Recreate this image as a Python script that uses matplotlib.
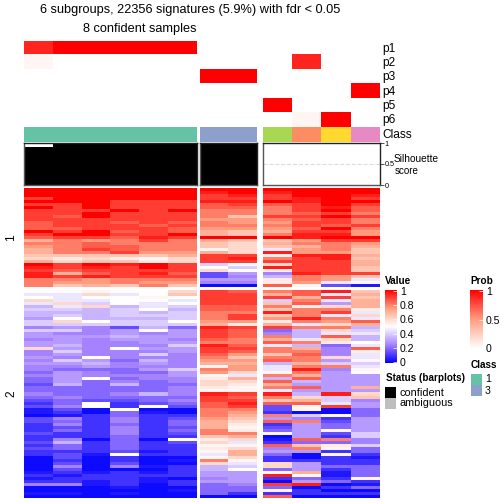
import numpy as np
import matplotlib
matplotlib.use('Agg')
import matplotlib.pyplot as plt
from matplotlib.cm import ScalarMappable
from matplotlib.colors import LinearSegmentedColormap, ListedColormap, Normalize

plt.rcParams['font.family'] = ['Liberation Sans', 'DejaVu Sans']

W, H = 504, 504

# membership probabilities by sample, p1..p6
prob_names = ['p1', 'p2', 'p3', 'p4', 'p5', 'p6']
prob_a = [[0.88, 1, 1, 1, 1, 1], [0.05, 0, 0, 0, 0, 0], [0, 0, 0, 0, 0, 0],
          [0, 0, 0, 0, 0, 0], [0, 0, 0, 0, 0, 0], [0, 0, 0, 0, 0, 0]]
prob_b = [[0, 0], [0, 0], [1, 1], [0, 0], [0, 0], [0, 0]]
prob_c = [[0, 0, 0, 0], [0, 0.88, 0, 0], [0, 0, 0, 0],
          [0, 0, 0, 1], [1, 0, 0, 0], [0, 0.05, 1, 0]]

class_a = ['#66C2A5']
class_b = ['#8DA0CB']
class_c = ['#A6D854', '#FC8D62', '#FFD92F', '#E78AC3']

sil_a = [0.9, 0.97, 0.97, 0.97, 0.97, 0.97]
sil_b = [0.97, 0.97]

# expression values in tenths, top row first
block1_a = [
    [10, 10, 10, 10, 10, 10], [10, 10, 10, 10, 10, 10], [10, 10, 10, 10, 10, 10],
    [9, 10, 10, 10, 10, 10], [10, 10, 10, 9, 9, 9], [9, 9, 10, 9, 9, 9],
    [10, 9, 10, 9, 9, 9], [9, 9, 9, 10, 9, 10], [9, 9, 10, 9, 9, 9],
    [9, 8.5, 10, 9, 9, 9], [9, 9, 9, 9, 9, 9], [8.5, 9, 9, 8.5, 9, 8.5],
    [8.5, 9, 9, 9, 8.5, 9], [8.5, 8.5, 9, 9, 9, 8.5], [10, 9, 10, 8.5, 9, 8.5],
    [9, 10, 10, 9, 9, 10], [8.5, 9, 9, 8.5, 9.5, 9], [7, 8, 7.5, 8, 9, 8],
    [8, 8, 8.5, 8, 8, 8], [7.5, 8, 8.5, 8.5, 8, 8], [7, 8, 9, 8.5, 8, 8],
    [7, 8, 8, 9, 7.5, 7.5], [6.5, 6.5, 6.5, 6.5, 6.5, 7], [6, 5.5, 6, 5.5, 5.2, 6],
    [7, 6, 6.5, 6.5, 5.5, 6], [10, 9, 10, 9.5, 10, 9], [9.5, 9, 9.5, 9, 10, 9],
    [9, 8.5, 9, 9, 9, 9], [9.5, 7, 8.5, 9, 9.5, 8.5], [9.5, 9, 9.5, 9, 9, 9],
    [8, 8, 7.5, 8, 8, 8], [8, 7.5, 7.5, 8, 7.5, 7.5], [8, 6.5, 7, 6.5, 8, 6.5],
]
block1_b = [
    [10, 10], [9.5, 10], [9, 9.5], [9, 9], [9.5, 9.5], [8.5, 9], [8.5, 8.5], [8, 8], [8, 8],
    [8, 6.5], [7.5, 7.5], [8, 7.5], [8, 8], [7.5, 7.5], [7, 6.5], [7, 6.5], [10, 10], [7, 6.5],
    [6.5, 6], [6.5, 6], [5.2, 6], [7, 6], [9, 9], [9, 9.5], [9, 9], [4, 5], [5, 4],
    [6, 5], [1.5, 3], [1.5, 2.5], [3, 3], [2.5, 2.5], [0.2, 0.2],
]
block1_c = [
    [10, 10, 10, 10], [9.5, 10, 10, 10], [9, 10, 10, 9.5], [9, 9.5, 10, 9], [10, 9.5, 10, 10],
    [8.5, 9, 10, 9], [8, 9, 9.5, 8.5], [8, 9, 10, 8.5], [8, 8.5, 9, 8], [9, 9, 10, 9],
    [8, 8.5, 9, 8], [7.5, 9, 9, 8], [8, 9, 8.5, 9], [7.5, 8.5, 10, 8], [7, 9, 9, 7.5],
    [8, 9.5, 9.5, 7.5], [10, 9.5, 10, 10], [6.5, 7.5, 9, 9], [7, 8, 8, 7.5], [6.5, 7, 8, 7],
    [4.5, 7.5, 8, 6.5], [9.5, 7.5, 7.5, 6.5], [5.5, 9.5, 9.5, 7], [8, 9, 9.5, 6.5], [9, 9, 9, 7],
    [6, 9, 9, 7], [9.5, 9, 9, 6.5], [5.5, 9, 9, 6.5], [2.5, 9.5, 9, 9], [3.5, 8, 7.5, 6.5],
    [5.5, 8, 7.5, 4.5], [5.5, 7.5, 4.5, 5.2], [8.5, 5.2, 1.5, 0.5],
]
block2_a = [
    [5, 5, 5.2, 5, 5, 6], [4.5, 4.5, 6, 4.5, 5, 6.5], [5, 4.5, 5, 5, 5.2, 5], [6, 4.5, 4.5, 5, 5, 4.5],
    [4.5, 6, 4, 5, 4.5, 5], [3.5, 4.5, 6, 3.5, 4.5, 4], [4, 4, 3.5, 4, 5, 3.5], [3.5, 3.5, 3.5, 4, 3.5, 4],
    [3.5, 4, 3.5, 4, 4, 4], [3, 5, 3.5, 3.5, 3.5, 4], [4, 6, 5, 4, 4, 5], [4, 4, 4, 4, 4, 4],
    [2.5, 3, 2.5, 1.5, 3.5, 2], [4, 4, 2.5, 3, 5, 3], [3, 2.5, 2.5, 3, 2.5, 3], [3, 3, 3, 3.5, 3, 3],
    [2.5, 3, 2.5, 3, 3, 2.5], [3, 3, 2.5, 2.5, 3, 3], [3, 3.5, 2.5, 2.5, 2.5, 4], [6, 3, 2.5, 5, 3, 3],
    [2.5, 4, 2.5, 2.5, 2.5, 3], [2.5, 3, 2.5, 2.5, 4, 2.5], [3, 2.5, 5, 2.5, 2.5, 2.5], [2.5, 4, 3, 2, 3.5, 2.5],
    [3, 3, 3.5, 2.5, 3, 2.5], [2.5, 2.5, 3, 2.5, 2.5, 2.5], [2.5, 2, 2, 2, 3, 4], [2, 3, 2.5, 2, 2, 3],
    [2.5, 3, 2.5, 2.5, 2.5, 3], [2, 3, 5, 2, 2.5, 2.5], [2, 3, 2, 2.5, 2, 2.5], [1.5, 3.5, 2, 3.5, 2, 2],
    [2, 2, 2, 2, 2, 2.5], [2, 2, 2, 2, 2, 2.5], [2.5, 2, 2, 2.5, 3.5, 2.5], [2, 2.5, 2, 2, 2, 2],
    [1.5, 2, 1.5, 1.5, 2, 2.5], [1, 2, 5, 1, 1.5, 2], [1.5, 2.5, 5, 1, 5, 1.5], [0.5, 1.5, 0.2, 5, 0.2, 0.2],
    [0.5, 1, 0.2, 2, 0.5, 0.2], [0.2, 0.5, 1, 2, 1, 1], [1.5, 2.5, 1, 2.5, 1, 1.5], [1.5, 2, 1, 2.5, 1, 2],
    [1, 2.5, 1, 2, 1, 2], [1, 1.5, 1, 2.5, 1, 1.5], [1, 2, 1, 2.5, 1, 2], [1.5, 1, 1, 2.5, 1, 1.5],
    [1, 1, 1, 2, 1, 1], [1, 2.5, 0.2, 2, 0.2, 5], [1.5, 3.5, 1, 2, 1, 1.5], [1, 2, 1, 2, 1, 1],
    [1.5, 2, 1, 2, 1, 1], [1, 1, 1, 1.5, 0.5, 1], [1, 1.5, 0.5, 5, 1, 1], [0.2, 1.5, 0.2, 1, 0.2, 0.2],
    [0.2, 1, 0.2, 1, 0.2, 0.5], [0.2, 1.5, 0.2, 1.5, 0.2, 0.2], [0.2, 2.5, 0.2, 2.5, 0.5, 1], [0.2, 1.5, 0.2, 0.2, 0.2, 1],
    [0.5, 1, 0.5, 1, 0.5, 1], [1, 0.5, 1, 1, 1, 1], [0.5, 1, 1, 1, 0.5, 0.2], [1, 1, 0.5, 1, 0.5, 1],
    [2.5, 2.5, 0.5, 1, 0.2, 1], [0.2, 0.2, 0.2, 0.5, 0.2, 0.2], [0.2, 0.2, 0.2, 0.2, 0.2, 0.5], [0.5, 0.5, 0.2, 0.5, 0.2, 0.2],
    [0.2, 0.2, 0.2, 0.2, 0.2, 0.2],
]
block2_b = [
    [9, 8.5], [9, 9], [9, 9], [9, 9], [9, 9], [8.5, 8.5], [8.5, 8.5], [8, 8], [8, 9], [8, 9],
    [7.5, 7.5], [7, 5.5], [9.5, 9], [9, 8.5], [9, 8.5], [9, 8.5], [8.5, 8], [8, 8], [9.5, 8.5], [9, 9],
    [9, 8.5], [8.5, 7.5], [8, 6.5], [7.5, 7.5], [7, 7], [5.2, 7.5], [8, 7.5], [7.5, 6], [5.2, 4.5], [5.5, 7],
    [6, 6], [6, 5.5], [5.5, 5.2], [5.2, 5.2], [9.5, 9], [9, 8.5], [9, 9], [8.5, 9.5], [8.5, 9], [8, 8],
    [8, 7.5], [8, 7], [7.5, 6.5], [7, 6], [7, 5.5], [7, 5.2], [8, 5.5], [8, 8], [6.5, 7], [5.5, 6],
    [6, 4.5], [5.2, 5.2], [5.5, 6], [5.2, 7], [4.5, 7], [5.2, 6], [8, 5.2], [6, 4.5], [3.5, 4], [3.5, 5],
    [3, 3], [3, 3], [2.5, 3], [3, 3], [2, 2.5], [2, 2], [2, 2], [2, 1], [0.2, 0.2],
]
block2_c = [
    [8, 8.5, 9.5, 6.5], [7, 8.5, 4.5, 7], [9, 7, 9, 6.5], [4, 8, 4.5, 7], [6.5, 8.5, 3, 7], [8, 5.5, 6, 7],
    [6.5, 8, 8, 5.5], [9.5, 8, 9, 4.5], [6.5, 8, 4.5, 6], [7.5, 9.5, 8, 4.5], [5.5, 8, 7.5, 8.5], [7, 4.5, 6, 7],
    [9, 8, 8, 3.5], [2, 3.5, 6, 4], [2.5, 3.5, 4.5, 4.5], [8, 3.5, 8.5, 3.5], [7, 4.5, 6, 3.5], [8.5, 8, 5.5, 5],
    [4.5, 3.5, 2, 4.5], [8, 7, 2.5, 8.5], [8, 8, 2.5, 5.5], [6.5, 8.5, 2.5, 4.5], [8, 8, 6, 4.5], [8.5, 8, 3, 5.2],
    [3.5, 7, 4, 4], [4.5, 8, 8, 4.5], [4.5, 9.5, 2.5, 5.2], [5.2, 8, 3, 5], [8, 7, 3, 3], [3.5, 8.5, 3, 3],
    [8.5, 3.5, 3, 3], [7, 3, 3, 3], [8, 8.5, 3, 7], [4.5, 3, 3, 3], [9.5, 3.5, 9.5, 6], [8, 6, 4, 6.5],
    [6.5, 7, 4, 2.5], [8.5, 8.5, 4.5, 3], [1.5, 5.2, 9, 3], [1.5, 5.2, 0.2, 2], [1, 0.2, 0.2, 2], [8, 4, 5.2, 2],
    [3, 2.5, 1, 3], [8.5, 8, 1.5, 3], [1, 3, 2, 3], [1.5, 3, 2, 3], [2, 3, 5.2, 3], [5.2, 3, 1.5, 4],
    [0.2, 3, 1, 4], [0.5, 8.5, 8, 2.5], [1, 2, 2, 2.5], [8.5, 6.5, 5.5, 4], [2.5, 8, 5.2, 2], [3, 3, 1, 2],
    [2, 0.2, 5.2, 1], [1, 0.2, 1, 0.5], [1, 1, 1, 1], [6, 3, 1, 1], [6, 3, 2, 2], [2, 3, 1, 2],
    [5.2, 7, 0.5, 2], [9.5, 5.2, 0.5, 2], [1, 2, 1, 5.2], [0.2, 3, 2, 1], [9, 9.5, 0.2, 0.5], [2, 0.2, 1, 2],
    [5.2, 1, 0.2, 0.2], [1, 1, 1, 1], [8.5, 0.2, 0.2, 0.2],
]

value_ticks = [0, 0.2, 0.4, 0.6, 0.8, 1]
prob_ticks = [0, 0.5, 1]

value_cmap = LinearSegmentedColormap.from_list(
    'value', ['#0000FF', '#A583FF', '#FFFFFF', '#FF9E81', '#FF0000'])
prob_cmap = LinearSegmentedColormap.from_list(
    'prob', ['#FFFFFF', '#FF9E81', '#FF0000'])


def px_axes(fig, x0, y0, x1, y1):
    ax = fig.add_axes([x0 / W, 1 - y1 / H, (x1 - x0) / W, (y1 - y0) / H])
    ax.set_xticks([])
    ax.set_yticks([])
    return ax


def px_text(fig, x, y, s, **kw):
    kw.setdefault('va', 'center')
    fig.text(x / W, 1 - y / H, s, **kw)


def heat(fig, box, data, cmap):
    ax = px_axes(fig, *box)
    ax.imshow(np.array(data, dtype=float), cmap=cmap, vmin=0, vmax=1,
              aspect='auto', interpolation='nearest')
    ax.axis('off')
    return ax


def sil_panel(fig, box, values, n):
    ax = px_axes(fig, *box)
    # no antialiasing, otherwise neighbouring bars leave grey seams
    ax.bar(np.arange(len(values)), values, width=1.02, color='black',
           linewidth=0, antialiased=False)
    ax.axhline(0.5, color='#DDDDDD', lw=0.8, ls='--', zorder=0)
    ax.set_xlim(-0.5, n - 0.5)
    ax.set_ylim(0, 1)
    for s in ax.spines.values():
        s.set_linewidth(1.0)
        s.set_color('#555555')
    ax.spines['top'].set_color('#222222')
    ax.spines['right'].set_color('#222222')
    return ax


fig = plt.figure(figsize=(5.04, 5.04), dpi=100, facecolor='white')

cols = [(24, 197), (200, 257), (263, 380)]

# probability rows
for (x0, x1), data in zip(cols, [prob_a, prob_b, prob_c]):
    heat(fig, (x0, 41, x1, 127), data, prob_cmap)
for i, name in enumerate(prob_names):
    px_text(fig, 382, 49 + i * 14.2, name, fontsize=8.6)

# class strip
for (x0, x1), colors in zip(cols, [class_a, class_b, class_c]):
    ax = px_axes(fig, x0, 127, x1, 142)
    ax.imshow([list(range(len(colors)))], cmap=ListedColormap(colors),
              aspect='auto', interpolation='nearest')
    ax.axis('off')
px_text(fig, 382, 135, 'Class', fontsize=8.6)

# silhouette bars
sil_panel(fig, (24, 143, 197, 185), sil_a, 6)
sil_panel(fig, (200, 143, 257, 185), sil_b, 2)
ax = sil_panel(fig, (263, 143, 380, 185), [], 4)
ax.yaxis.tick_right()
ax.set_yticks([0, 0.5, 1])
ax.set_yticklabels(['0', '0.5', '1'], fontsize=5.2)
ax.tick_params(axis='y', length=3, width=0.6, pad=0.5, color='#333333')
px_text(fig, 394, 159, 'Silhouette', fontsize=7.3)
px_text(fig, 395, 171, 'score', fontsize=7.0)

# main heatmap, two row slices
for (x0, x1), top, bottom in zip(cols, [block1_a, block1_b, block1_c],
                                 [block2_a, block2_b, block2_c]):
    heat(fig, (x0, 188, x1, 287), np.array(top) / 10, value_cmap)
    heat(fig, (x0, 290, x1, 498), np.array(bottom) / 10, value_cmap)
px_text(fig, 11, 238, '1', fontsize=8.6, rotation=90, ha='center')
px_text(fig, 11, 394, '2', fontsize=8.6, rotation=90, ha='center')

# titles
px_text(fig, 190, 10, '6 subgroups, 22356 signatures (5.9%) with fdr < 0.05',
        fontsize=9.2, ha='center')
px_text(fig, 140, 29, '8 confident samples', fontsize=9.2, ha='center')

# value legend
px_text(fig, 385, 281, 'Value', fontsize=7.2, fontweight='bold')
cax = px_axes(fig, 385, 290, 397, 363)
cb = fig.colorbar(ScalarMappable(Normalize(-0.02, 1.02), value_cmap), cax=cax)
cb.set_ticks(value_ticks)
cb.set_ticklabels(['0', '0.2', '0.4', '0.6', '0.8', '1'], fontsize=7.6)
cb.ax.tick_params(length=3, width=0.5, color='white', direction='in', pad=2)
cb.outline.set_visible(False)

# prob legend
px_text(fig, 470, 281, 'Prob', fontsize=7.2, fontweight='bold')
cax = px_axes(fig, 470, 290, 483, 349)
cb = fig.colorbar(ScalarMappable(Normalize(-0.02, 1.02), prob_cmap), cax=cax)
cb.set_ticks(prob_ticks)
cb.set_ticklabels(['0', '0.5', '1'], fontsize=7.6)
cb.ax.tick_params(length=3, width=0.5, color='white', direction='in', pad=2)
cb.outline.set_visible(False)

# class legend
px_text(fig, 471, 365, 'Class', fontsize=7.2, fontweight='bold')
for y0, y1, color, label in [(374, 385, class_a[0], '1'), (385, 396, class_b[0], '3')]:
    ax = px_axes(fig, 471, y0, 482, y1)
    ax.set_facecolor(color)
    for s in ax.spines.values():
        s.set_visible(False)
    px_text(fig, 485, (y0 + y1) / 2, label, fontsize=7.6)

# status legend
px_text(fig, 386, 378, 'Status (barplots)', fontsize=7.1, fontweight='bold')
for y0, y1, color, label in [(387, 398, 'black', 'confident'), (398, 409, '#BEBEBE', 'ambiguous')]:
    ax = px_axes(fig, 385, y0, 396, y1)
    ax.set_facecolor(color)
    for s in ax.spines.values():
        s.set_visible(False)
    px_text(fig, 400, (y0 + y1) / 2, label, fontsize=7.8)

fig.savefig('out.png', dpi=100)
